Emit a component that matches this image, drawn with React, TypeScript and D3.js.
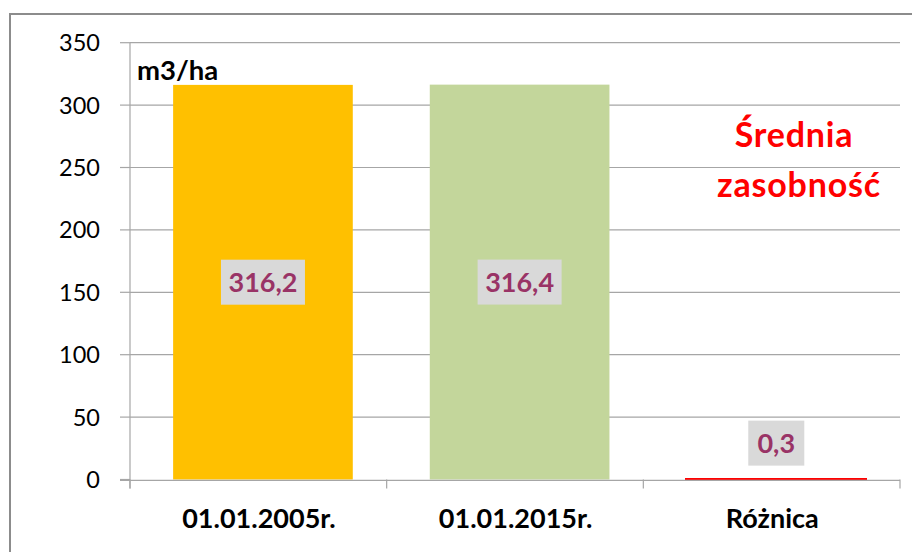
import * as d3 from 'd3';

// Chart data
const categories = ['01.01.2005r.', '01.01.2015r.', 'Różnica'];
const values = [316.2, 316.4, 0.3];
const valueLabels = ['316,2', '316,4', '0,3'];
const yTicks = [0, 50, 100, 150, 200, 250, 300, 350];
const barColors = ['#FFC000', '#C3D69B', '#FF0000'];

const W = 912;
const H = 552;
const plot = { left: 130, right: 900, top: 42.7, bottom: 479.5 };
const FONT = 'Lato, "Open Sans", sans-serif';

export default function App() {
  const x = d3.scaleBand<string>()
    .domain(categories)
    .range([plot.left, plot.right])
    .paddingInner(0.3)
    .paddingOuter(0.15)
    .align(0.56);

  const y = d3.scaleLinear()
    .domain([0, 350])
    .range([plot.bottom, plot.top]);

  const step = (plot.right - plot.left) / categories.length;
  const boundaries = d3.range(categories.length + 1).map(i => plot.left + i * step);

  return (
    <svg width={W} height={H} style={{ position: 'absolute', left: 0, top: 0, background: '#fff' }}>
      {/* outer frame */}
      <rect x={10} y={14} width={W + 10} height={H + 10} fill="none" stroke="#8c8c8c" strokeWidth={2} />

      {/* gridlines + y tick labels */}
      {yTicks.map(t => (
        <g key={t}>
          {t > 0 && (
            <line x1={plot.left} x2={plot.right} y1={y(t)} y2={y(t)} stroke="#a6a6a6" strokeWidth={1.2} />
          )}
          <line x1={plot.left - 10} x2={plot.left} y1={y(t)} y2={y(t)} stroke="#a6a6a6" strokeWidth={1.2} />
          <text x={100} y={y(t)} dy="0.36em" textAnchor="end" fontFamily={FONT} fontSize={23.5} fill="#000">
            {t}
          </text>
        </g>
      ))}

      {/* bars */}
      {categories.map((c, i) => (
        <rect
          key={c}
          x={x(c)}
          y={y(values[i])}
          width={x.bandwidth()}
          height={y(0) - y(values[i])}
          fill={barColors[i]}
          stroke={i === 2 ? barColors[i] : 'none'}
          strokeWidth={2.2}
          shapeRendering={i === 2 ? 'crispEdges' : undefined}
        />
      ))}

      {/* axes */}
      <line x1={plot.left} x2={plot.left} y1={plot.top} y2={plot.bottom + 9} stroke="#a6a6a6" strokeWidth={1.2} />
      <line x1={plot.left - 10} x2={plot.right} y1={plot.bottom + 0.8} y2={plot.bottom + 0.8} stroke="#a6a6a6" strokeWidth={1.2} />
      {boundaries.map(b => (
        <line key={b} x1={b} x2={b} y1={plot.bottom} y2={plot.bottom + 9} stroke="#a6a6a6" strokeWidth={1.2} />
      ))}

      {/* category labels */}
      {categories.map(c => (
        <text key={c} x={(x(c) ?? 0) + x.bandwidth() / 2 - 4} y={528} textAnchor="middle"
          fontFamily={FONT} fontSize={27} fontWeight="bold" fill="#000">
          {c}
        </text>
      ))}

      {/* value labels */}
      {categories.map((c, i) => {
        const cx = (x(c) ?? 0) + x.bandwidth() / 2;
        const barH = y(0) - y(values[i]);
        const cy = barH > 60 ? y(values[i] / 2) : y(values[i]) - 36;
        const bw = valueLabels[i].length * 14 + 14;
        return (
          <g key={c}>
            <rect x={cx - bw / 2} y={cy - 22.5} width={bw} height={45} fill="#D9D9D9" />
            <text x={cx} y={cy} dy="0.36em" textAnchor="middle" fontFamily={FONT}
              fontSize={27} fontWeight="bold" fill="#993366">
              {valueLabels[i]}
            </text>
          </g>
        );
      })}

      {/* unit */}
      <text x={137} y={80} fontFamily={FONT} fontSize={27.5} fontWeight="bold" fill="#000">m3/ha</text>

      {/* annotation */}
      <text x={794} y={147} textAnchor="middle" fontFamily={FONT} fontSize={34} fontWeight="bold"
        letterSpacing={0.8} fill="#FF0000">Średnia</text>
      <text x={799} y={197} textAnchor="middle" fontFamily={FONT} fontSize={34} fontWeight="bold"
        letterSpacing={0.8} fill="#FF0000">zasobność</text>
    </svg>
  );
}
